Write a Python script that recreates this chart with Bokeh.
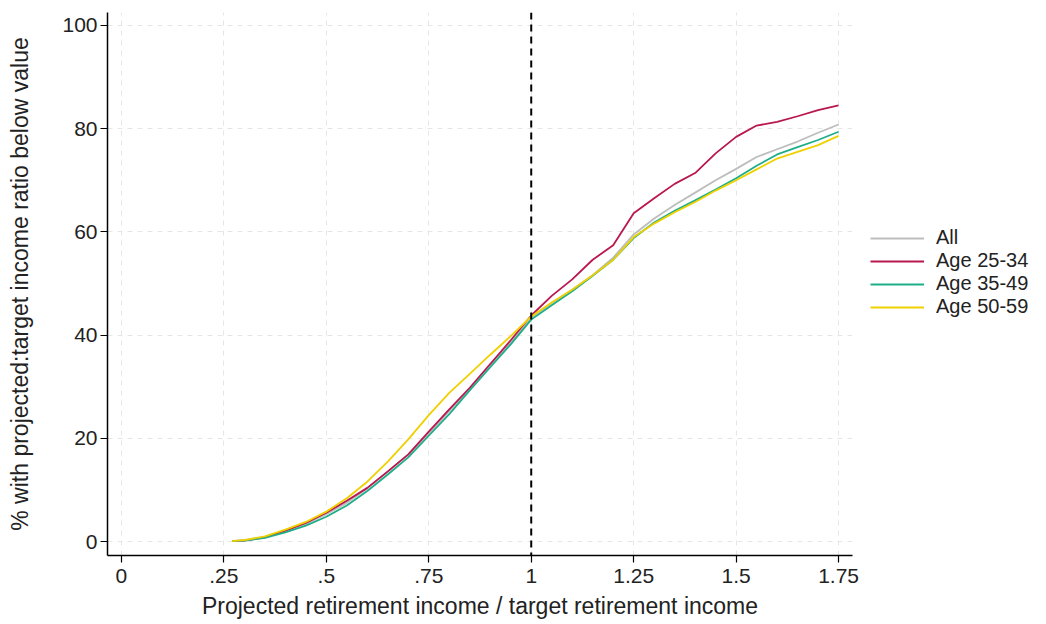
from bokeh.plotting import figure
from bokeh.models import Span, Legend, LegendItem, FixedTicker, Range1d
from bokeh.embed import file_html
from bokeh.resources import INLINE

ratio = [0.27, 0.30, 0.35, 0.40, 0.45, 0.50, 0.55, 0.60, 0.65, 0.70, 0.75, 0.80, 0.85, 0.90,
         0.95, 1.00, 1.05, 1.10, 1.15, 1.20, 1.25, 1.30, 1.35, 1.40, 1.45, 1.50, 1.55, 1.60,
         1.65, 1.70, 1.75]
all_pct = [0.1, 0.3, 0.9, 2.0, 3.4, 5.3, 7.5, 10.3, 13.5, 16.8, 20.8, 25.3, 29.6, 34.3, 38.6,
           43.2, 46.2, 48.8, 51.6, 55.0, 59.5, 62.6, 65.2, 67.6, 70.0, 72.2, 74.5, 76.0, 77.5,
           79.2, 80.8]
age_25_34 = [0.1, 0.2, 0.8, 2.1, 3.6, 5.6, 7.9, 10.4, 13.6, 16.9, 21.3, 25.6, 29.8, 34.4, 39.0,
             43.8, 47.6, 50.8, 54.6, 57.4, 63.6, 66.5, 69.3, 71.4, 75.2, 78.4, 80.6, 81.3, 82.4,
             83.6, 84.5]
age_35_49 = [0.1, 0.2, 0.7, 1.8, 3.1, 4.8, 7.0, 9.8, 13.0, 16.3, 20.5, 24.7, 29.3, 33.8, 38.2,
             43.0, 45.8, 48.5, 51.5, 54.6, 58.8, 61.8, 64.1, 66.1, 68.2, 70.4, 72.8, 75.0, 76.4,
             77.8, 79.4]
age_50_59 = [0.1, 0.3, 1.0, 2.3, 3.8, 5.8, 8.4, 11.6, 15.5, 19.8, 24.5, 28.8, 32.5, 36.2, 39.8,
             43.6, 46.3, 48.8, 51.6, 54.6, 59.0, 61.6, 63.8, 65.8, 68.0, 70.0, 72.1, 74.2, 75.5,
             76.8, 78.6]

series = [("All", all_pct, "#bdbdbd"),
          ("Age 25-34", age_25_34, "#b8174f"),
          ("Age 35-49", age_35_49, "#1fae8a"),
          ("Age 50-59", age_50_59, "#efd000")]

x_ticks = [0, 0.25, 0.5, 0.75, 1, 1.25, 1.5, 1.75]
x_tick_labels = ["0", ".25", ".5", ".75", "1", "1.25", "1.5", "1.75"]
y_ticks = [0, 20, 40, 60, 80, 100]

p = figure(frame_width=745, frame_height=543, output_backend="svg", toolbar_location=None,
           x_range=Range1d(-0.034, 1.784), y_range=Range1d(-2.7, 102.5),
           min_border_left=107, min_border_top=12, min_border_bottom=10, min_border_right=0,
           background_fill_color="white", border_fill_color="white")
p.outline_line_color = None

font = "Liberation Sans"
for ax in (p.xaxis[0], p.yaxis[0]):
    ax.axis_line_color = "black"
    ax.axis_line_width = 1.5
    ax.major_tick_line_color = "black"
    ax.major_tick_line_width = 1.2
    ax.major_tick_out = 7
    ax.major_tick_in = 0
    ax.minor_tick_line_color = None
    ax.major_label_text_font = font
    ax.major_label_text_font_size = "21px"
    ax.major_label_text_color = "#222222"
    ax.axis_label_text_font = font
    ax.axis_label_text_font_size = "23px"
    ax.axis_label_text_font_style = "normal"
    ax.axis_label_text_color = "#222222"

p.xaxis[0].ticker = FixedTicker(ticks=x_ticks)
p.xaxis[0].major_label_overrides = {t: l for t, l in zip(x_ticks, x_tick_labels)}
p.xaxis[0].axis_label = "Projected retirement income / target retirement income"
p.xaxis[0].major_label_standoff = 6
p.xaxis[0].axis_label_standoff = 7
p.yaxis[0].ticker = FixedTicker(ticks=y_ticks)
p.yaxis[0].axis_label = "% with projected:target income ratio below value"
p.yaxis[0].major_label_orientation = "horizontal"
p.yaxis[0].major_label_standoff = 3
p.yaxis[0].axis_label_standoff = 26

for g in (p.xgrid[0], p.ygrid[0]):
    g.grid_line_color = "#e6e6e6"
    g.grid_line_dash = "5 5"
    g.grid_line_width = 1
p.xgrid[0].ticker = FixedTicker(ticks=x_ticks)
p.ygrid[0].ticker = FixedTicker(ticks=y_ticks)

items = []
for name, vals, color in series:
    r = p.line(ratio, vals, line_color=color, line_width=1.8)
    items.append(LegendItem(label=name, renderers=[r]))

p.add_layout(Span(location=1, dimension="height", line_color="black",
                  line_dash="7 5", line_width=2))

legend = Legend(items=items, location=(18, 237), border_line_color=None,
                background_fill_alpha=0, label_text_font=font, label_text_font_size="20px",
                label_text_color="#222222", glyph_width=54, spacing=0, label_height=20,
                glyph_height=20, padding=4, margin=0, label_standoff=12)
p.add_layout(legend, "right")

open("out.html", "w").write(file_html(p, INLINE))
